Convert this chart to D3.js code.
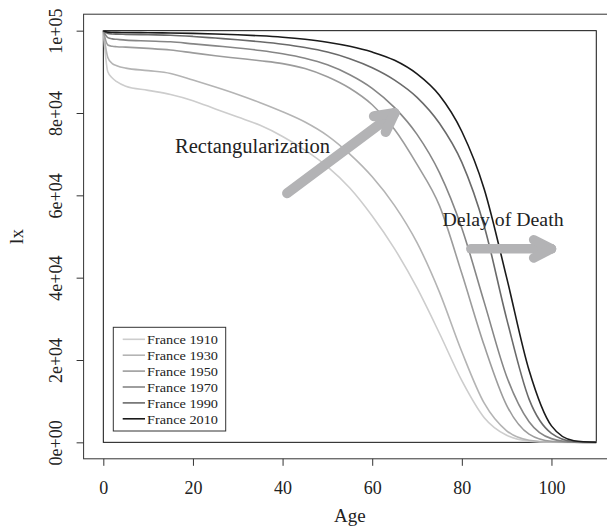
<!DOCTYPE html>
<html>
<head>
<meta charset="utf-8">
<script src="https://cdn.jsdelivr.net/npm/d3@7"></script>
<style>
  body { margin: 0; background: #fff; }
  svg text { font-family: "Liberation Serif", "Times New Roman", serif; fill: #222; }
</style>
</head>
<body>
<div id="chart"></div>
<script>
// Datos (lx por edad, Francia)
const ages = [0, 1, 2, 3, 5, 10, 15, 20, 25, 30, 35, 40, 45, 50, 55, 60, 65, 70, 75, 80, 85, 90, 95, 100, 105, 110];
const lx1910 = [100000, 90000, 88500, 87600, 86500, 85500, 84500, 83000, 81000, 79000, 77000, 74300, 71000, 67000, 61800, 55000, 47000, 37500, 26500, 15000, 6000, 1700, 300, 30, 2, 0];
const lx1930 = [100000, 93500, 92000, 91500, 90900, 90300, 89600, 88000, 86300, 84500, 82500, 80300, 77800, 74500, 70000, 64500, 57500, 48500, 36500, 22000, 9500, 2800, 500, 50, 3, 0];
const lx1950 = [100000, 96500, 96200, 96100, 96000, 95700, 95300, 94600, 93900, 93300, 92700, 92000, 90800, 88800, 86000, 82000, 76000, 67500, 57500, 41000, 23500, 9000, 2000, 250, 15, 0];
const lx1970 = [100000, 98300, 98000, 97900, 97700, 97500, 97300, 96800, 96300, 95800, 95200, 94400, 93300, 91700, 89300, 86000, 81300, 74800, 65500, 52000, 34000, 16000, 5000, 900, 60, 0];
const lx1990 = [100000, 99300, 99200, 99150, 99100, 99000, 98900, 98600, 98200, 97800, 97300, 96700, 95900, 94800, 93200, 91000, 88000, 83800, 77500, 68000, 52500, 30000, 10500, 2200, 200, 5];
const lx2010 = [100000, 99650, 99600, 99580, 99550, 99500, 99450, 99350, 99200, 99000, 98750, 98400, 97900, 97200, 96200, 94800, 92800, 89500, 84300, 75500, 61500, 40000, 17500, 4000, 400, 10];

const seriesNames = ['France 1910', 'France 1930', 'France 1950', 'France 1970', 'France 1990', 'France 2010'];
const seriesValues = [lx1910, lx1930, lx1950, lx1970, lx1990, lx2010];
const seriesColors = ['#cdcdcd', '#b4b4b4', '#9c9c9c', '#868686', '#6a6a6a', '#1a1a1a'];

const xTicks = [0, 20, 40, 60, 80, 100];
const yTicks = [0, 20000, 40000, 60000, 80000, 100000];
const yTickLabels = ['0e+00', '2e+04', '4e+04', '6e+04', '8e+04', '1e+05'];

//Tamaño del gráfico
const W = 607, H = 531;
const plot = {left: 83.6, right: 616, top: 14.2, bottom: 458.8};

let svg = d3.select('#chart')
    .append('svg')
        .attr('width', W)
        .attr('height', H);

svg.append('rect').attr('width', W).attr('height', H).attr('fill', '#fff');

//Escalas (rango de R con 4% extra)
let x = d3.scaleLinear()
    .domain([-4.4, 114.4])
    .range([plot.left, plot.right]);

let y = d3.scaleLinear()
    .domain([-4000, 104000])
    .range([plot.bottom, plot.top]);

//Caja exterior
svg.append('rect')
    .attr('x', plot.left)
    .attr('y', plot.top)
    .attr('width', plot.right - plot.left)
    .attr('height', plot.bottom - plot.top)
    .attr('fill', 'none')
    .attr('stroke', '#333')
    .attr('stroke-width', 1);

//Eje X
let xAxis = svg.append('g')
    .attr('transform', 'translate(0,' + plot.bottom + ')')
    .call(d3.axisBottom(x).tickValues(xTicks).tickSize(7).tickSizeOuter(0));
xAxis.select('.domain').remove();
xAxis.selectAll('.tick line').attr('stroke', '#333');
xAxis.selectAll('text')
    .attr('y', 35)
    .attr('dy', 0)
    .style('font-size', '18px')
    .style('font-family', '"Liberation Serif", serif')
    .attr('fill', '#222');

//Eje Y
let yAxis = svg.append('g')
    .attr('transform', 'translate(' + plot.left + ',0)')
    .call(d3.axisLeft(y).tickValues(yTicks).tickFormat(function(d, i) { return yTickLabels[i]; }).tickSize(7).tickSizeOuter(0));
yAxis.select('.domain').remove();
yAxis.selectAll('.tick line').attr('stroke', '#333');
yAxis.selectAll('text')
    .attr('x', 0)
    .attr('y', 0)
    .attr('dy', 0)
    .attr('transform', 'translate(-22,0) rotate(-90)')
    .attr('text-anchor', 'middle')
    .style('font-size', '18px')
    .style('font-family', '"Liberation Serif", serif')
    .attr('fill', '#222');

//Títulos de ejes
svg.append('text')
    .attr('x', (plot.left + plot.right) / 2)
    .attr('y', 522)
    .attr('text-anchor', 'middle')
    .style('font-size', '19px')
    .text('Age');

svg.append('text')
    .attr('transform', 'translate(23,' + ((plot.top + plot.bottom) / 2) + ') rotate(-90)')
    .attr('text-anchor', 'middle')
    .style('font-size', '19px')
    .text('lx');

//Rectángulo interior
svg.append('rect')
    .attr('x', x(0))
    .attr('y', y(100000))
    .attr('width', x(110) - x(0))
    .attr('height', y(0) - y(100000))
    .attr('fill', 'none')
    .attr('stroke', '#111')
    .attr('stroke-width', 1);

//Curvas
let line = d3.line()
    .x(function(d) { return x(d[0]); })
    .y(function(d) { return y(d[1]); })
    .curve(d3.curveMonotoneX);

seriesValues.forEach(function(vals, i) {
    svg.append('path')
        .datum(ages.map(function(a, j) { return [a, vals[j]]; }))
        .attr('fill', 'none')
        .attr('stroke', seriesColors[i])
        .attr('stroke-width', 1.6)
        .attr('d', line);
});

//Flechas
const ARROW = '#b3b3b5';
function drawArrow(x0, y0, x1, y1, head, ang, w) {
    let px0 = x(x0), py0 = y(y0), px1 = x(x1), py1 = y(y1);
    let a = Math.atan2(py1 - py0, px1 - px0);
    let g = svg.append('g')
        .attr('stroke', ARROW)
        .attr('stroke-width', w)
        .attr('stroke-linecap', 'round')
        .attr('fill', 'none');
    g.append('line').attr('x1', px0).attr('y1', py0).attr('x2', px1).attr('y2', py1);
    [ang, -ang].forEach(function(s) {
        g.append('line')
            .attr('x1', px1).attr('y1', py1)
            .attr('x2', px1 - head * Math.cos(a + s))
            .attr('y2', py1 - head * Math.sin(a + s));
    });
}
drawArrow(41, 60500, 65, 80000, 21, 28 * Math.PI / 180, 10);
drawArrow(82, 47000, 100, 47000, 20, 27 * Math.PI / 180, 9.5);

//Textos
svg.append('text')
    .attr('x', x(33.3))
    .attr('y', y(72000) + 7)
    .attr('text-anchor', 'middle')
    .attr('textLength', 155)
    .attr('lengthAdjust', 'spacingAndGlyphs')
    .style('font-size', '20px')
    .text('Rectangularization');

svg.append('text')
    .attr('x', x(89.2))
    .attr('y', y(54000) + 6)
    .attr('text-anchor', 'middle')
    .attr('textLength', 121)
    .attr('lengthAdjust', 'spacingAndGlyphs')
    .style('font-size', '19.5px')
    .text('Delay of Death');

//Leyenda
let legend = svg.append('g');
legend.append('rect')
    .attr('x', 113.3).attr('y', 327.3)
    .attr('width', 112.4).attr('height', 103.7)
    .attr('fill', '#fff')
    .attr('stroke', '#333')
    .attr('stroke-width', 1);

seriesNames.forEach(function(name, i) {
    let ly = 339.3 + i * 15.9;
    legend.append('line')
        .attr('x1', 122.7).attr('x2', 145)
        .attr('y1', ly).attr('y2', ly)
        .attr('stroke', seriesColors[i])
        .attr('stroke-width', 1.6);
    legend.append('text')
        .attr('x', 147)
        .attr('y', ly + 4.7)
        .attr('textLength', 71)
        .attr('lengthAdjust', 'spacingAndGlyphs')
        .style('font-size', '13.5px')
        .text(name);
});
</script>
</body>
</html>
